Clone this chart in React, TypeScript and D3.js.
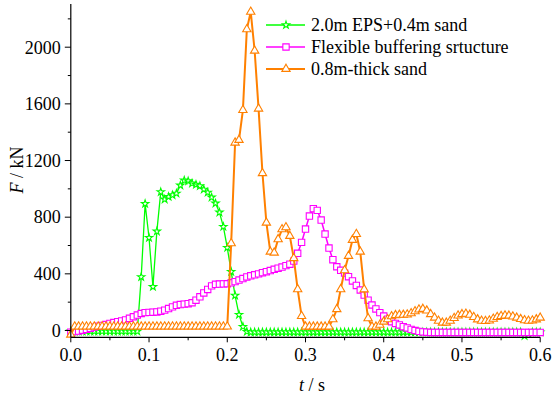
import React from "react";
import * as d3 from "d3";

// sampling step of the three force histories (s)
const TIME_STEP = 0.005;

// 2.0m EPS + 0.4m sand
const epsSand = [
  -6, -6, -6, -6, -6, -6, -6, -6, -6, -6,
  -6, -6, -6, -6, -6, -6, -6, -6, 378, 895,
  655, 309, 700, 978, 926, 944, 956, 968, 1025, 1060,
  1055, 1039, 1030, 1020, 996, 975, 940, 898, 834, 733,
  585, 415, 247, 112, 27, -8, -12, -12, -12, -12,
  -12, -12, -12, -12, -12, -12, -12, -12, -12, -12,
  -12, -12, -12, -12, -12, -12, -12, -12, -12, -12,
  -12, -12, -12, -12, -12, -12, -12, -12, -12, -12,
  -12, -12, -12, -12, -12, -12, -12, -12, -12, -12,
  -12, -12, -12, -12, -12, -12, -12, -12, -12, -12,
  -12, -12, -12, -12, -12, -12, -12, -12, -12, -12,
  -12, -12, -12, -12, -12, -12, -38, -22, -12, -12,
  -12,
];

// Flexible buffering structure
const flexible = [
  -12, -8, -4, 2, 8, 15, 24, 30, 36, 42,
  50, 56, 62, 68, 75, 86, 97, 109, 120, 126,
  128, 129, 131, 136, 144, 155, 167, 178, 183, 186,
  189, 196, 214, 238, 265, 290, 315, 326, 328, 329,
  330, 337, 345, 356, 367, 378, 386, 393, 400, 408,
  415, 423, 432, 440, 448, 458, 468, 490, 545, 622,
  716, 808, 860, 848, 780, 681, 582, 500, 450, 425,
  405, 380, 350, 318, 286, 250, 214, 180, 152, 126,
  102, 80, 62, 50, 39, 27, 18, 8, 0, -6,
  -10, -12, -14, -14, -14, -14, -14, -14, -14, -14,
  -14, -14, -14, -14, -14, -14, -14, -14, -14, -14,
  -14, -14, -14, -14, -14, -14, -14, -14, -14, -14,
  -14,
];

// 0.8m-thick sand
const thickSand = [
  -30, 28, 28, 28, 28, 28, 28, 28, 28, 28,
  28, 28, 28, 28, 28, 28, 28, 28, 28, 28,
  28, 28, 28, 28, 28, 28, 28, 28, 28, 28,
  28, 28, 28, 28, 28, 28, 28, 28, 28, 28,
  28, 615, 1326, 1345, 1556, 2126, 2250, 1975, 1566, 1110,
  761, 556, 549, 644, 714, 728, 667, 510, 291, 102,
  27, 27, 27, 27, 27, 27, 27, 79, 150, 291,
  425, 526, 639, 681, 556, 290, 86, 27, 27, 40,
  62, 79, 100, 108, 110, 110, 112, 121, 135, 148,
  152, 140, 115, 90, 68, 55, 55, 68, 88, 105,
  115, 118, 110, 95, 78, 68, 66, 70, 82, 95,
  102, 105, 104, 98, 90, 80, 72, 68, 70, 78,
  90,
];

const legendLabels = [
  "2.0m EPS+0.4m sand",
  "Flexible buffering srtucture",
  "0.8m-thick sand",
];

const xTicks = [0, 0.1, 0.2, 0.3, 0.4, 0.5, 0.6];
const xMinor = [0.05, 0.15, 0.25, 0.35, 0.45, 0.55];
const yTicks = [0, 400, 800, 1200, 1600, 2000];
const yMinor = [200, 600, 1000, 1400, 1800, 2200];

const W = 552;
const H = 398;
const FONT = "Liberation Serif, Times New Roman, serif";

const x = d3.scaleLinear().domain([0, 0.6]).range([70.8, 540.2]);
const y = d3.scaleLinear().domain([-48, 2305]).range([337.3, 4]);

const series = [
  { name: legendLabels[0], values: epsSand, color: "#00ff00", symbol: d3.symbolStar, size: 17, lw: 1.3 },
  { name: legendLabels[1], values: flexible, color: "#ff00ff", symbol: d3.symbolSquare, size: 40, lw: 1.5 },
  { name: legendLabels[2], values: thickSand, color: "#ff8000", symbol: d3.symbolTriangle, size: 30, lw: 2 },
];

const line = d3
  .line<number>()
  .x((_, i) => x(i * TIME_STEP))
  .y((d) => y(d));

const txt = { fontFamily: FONT, fontSize: 18 };

const App = () => {
  const x0 = x.range()[0];
  const yBottom = y.range()[0];
  return (
    <svg
      width={W}
      height={H}
      style={{ position: "absolute", left: 0, top: 0, background: "white", fontFamily: FONT }}
    >
      {series.map((s) => {
        const sym = d3.symbol().type(s.symbol).size(s.size)()!;
        return (
          <g key={s.name}>
            <path d={line(s.values)!} fill="none" stroke={s.color} strokeWidth={s.lw} />
            {s.values.map((v, i) => (
              <path
                key={i}
                d={sym}
                transform={`translate(${x(i * TIME_STEP)},${y(v)})`}
                fill="white"
                stroke={s.color}
                strokeWidth={1.1}
              />
            ))}
          </g>
        );
      })}

      {/* axes */}
      <line x1={x0} x2={x0} y1={y.range()[1]} y2={yBottom} stroke="black" strokeWidth={1.2} />
      <line x1={x0} x2={x.range()[1]} y1={yBottom} y2={yBottom} stroke="black" strokeWidth={1.2} />
      {yTicks.map((t) => (
        <g key={t}>
          <line x1={x0 - 6} x2={x0} y1={y(t)} y2={y(t)} stroke="black" />
          <text x={x0 - 10} y={y(t)} dy="0.35em" textAnchor="end" style={txt}>
            {t}
          </text>
        </g>
      ))}
      {yMinor.map((t) => (
        <line key={t} x1={x0 - 3} x2={x0} y1={y(t)} y2={y(t)} stroke="black" />
      ))}
      {xTicks.map((t) => (
        <g key={t}>
          <line x1={x(t)} x2={x(t)} y1={yBottom} y2={yBottom + 5} stroke="black" />
          <text x={x(t)} y={yBottom + 24} textAnchor="middle" style={txt}>
            {t.toFixed(1)}
          </text>
        </g>
      ))}
      {xMinor.map((t) => (
        <line key={t} x1={x(t)} x2={x(t)} y1={yBottom} y2={yBottom + 3} stroke="black" />
      ))}

      <text transform="translate(23,170) rotate(-90)" textAnchor="middle" style={txt}>
        <tspan fontStyle="italic">F</tspan> / kN
      </text>
      <text x={312} y={391} textAnchor="middle" style={txt}>
        <tspan fontStyle="italic">t</tspan> / s
      </text>

      {/* legend */}
      {series.map((s, i) => {
        const ly = 25 + i * 22;
        const sym = d3.symbol().type(s.symbol).size(s.size)()!;
        return (
          <g key={s.name}>
            <line x1={266} x2={305} y1={ly} y2={ly} stroke={s.color} strokeWidth={s.lw} />
            <path d={sym} transform={`translate(286,${ly})`} fill="white" stroke={s.color} strokeWidth={1.1} />
            <text x={311} y={ly} dy="0.35em" style={txt}>
              {s.name}
            </text>
          </g>
        );
      })}
    </svg>
  );
};

export default App;
